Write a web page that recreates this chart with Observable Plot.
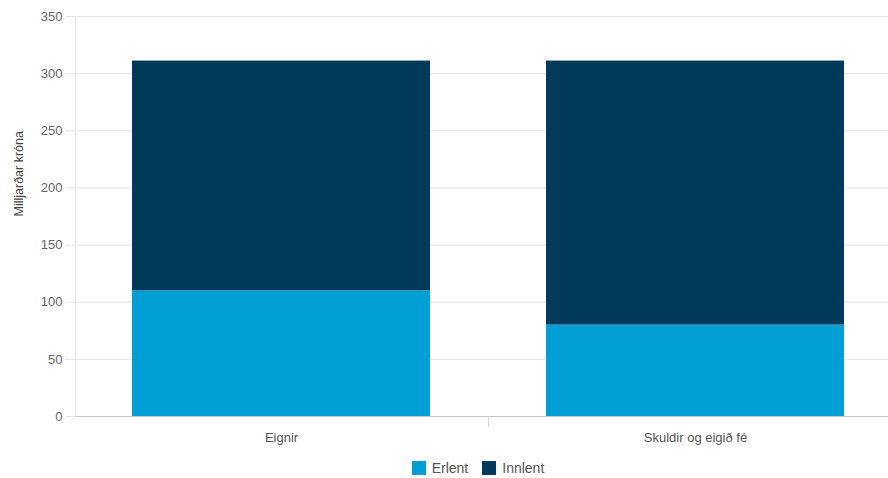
<!DOCTYPE html>
<html><head><meta charset="utf-8">
<script src="https://cdn.jsdelivr.net/npm/d3@7"></script>
<script src="https://cdn.jsdelivr.net/npm/@observablehq/plot@0.6"></script>
<style>
body{margin:0;background:#fff;font-family:"Liberation Sans",Arial,sans-serif;}
#legend{display:flex;justify-content:center;align-items:center;gap:14px;font-size:14px;color:#555;height:26px;padding-left:68px;margin-top:3px}
#legend span.item{display:flex;align-items:center;gap:6px}
#legend span.sw{display:inline-block;width:14px;height:14px}
</style></head>
<body><div id="chart"></div><div id="legend"></div>
<script>
const categories = ["Eignir", "Skuldir og eigið fé"];
const series = ["Erlent", "Innlent"];
const erlent = [110, 80];
const innlent = [201, 231];
const colors = ["#009fd5", "#003a5b"];
const yTicks = [0, 50, 100, 150, 200, 250, 300, 350];

const data = [];
categories.forEach((c, i) => {
  data.push({cat: c, series: "Erlent", value: erlent[i]});
  data.push({cat: c, series: "Innlent", value: innlent[i]});
});

const boundaryTick = (index, scales, values, dimensions) => {
  const x = scales.x;
  const bw = x.bandwidth ? x.bandwidth() : 0;
  const b = (x(categories[0]) + bw + x(categories[1])) / 2;
  const y0 = dimensions.height - dimensions.marginBottom;
  return d3.create("svg:line")
    .attr("x1", Math.round(b) + 0.5).attr("x2", Math.round(b) + 0.5)
    .attr("y1", y0 + 1).attr("y2", y0 + 11)
    .attr("stroke", "#d6d6d6").node();
};

const leftLine = (index, scales, values, dimensions) => {
  const y = scales.y;
  return d3.create("svg:line")
    .attr("x1", dimensions.marginLeft + 0.5).attr("x2", dimensions.marginLeft + 0.5)
    .attr("y1", y(350)).attr("y2", y(0))
    .attr("stroke", "#e6e6e6").node();
};

const chart = Plot.plot({
  width: 888,
  height: 452,
  marginTop: 16,
  marginBottom: 36,
  marginLeft: 75,
  marginRight: 0,
  style: {fontFamily: "Liberation Sans, Arial, sans-serif", fontSize: "13px", color: "#666", background: "#fff"},
  x: {domain: categories, range: [74, 902], paddingInner: 0.28, paddingOuter: 0.14, label: null},
  y: {domain: [0, 350], ticks: yTicks, label: null},
  color: {domain: series, range: colors},
  marks: [
    Plot.gridY(yTicks, {stroke: "#e6e6e6", strokeOpacity: 1}),
    leftLine,
    Plot.axisY(yTicks, {tickSize: 10, tickPadding: 3, stroke: "#e6e6e6", fill: "#666", fontSize: 13}),
    Plot.barY(data, Plot.stackY({x: "cat", y: "value", fill: "series", order: series})),
    Plot.ruleY([0], {stroke: "#c8c8c8"}),
    Plot.axisX({tickSize: 0, tickPadding: 16, fill: "#555", fontSize: 13}),
    boundaryTick,
    Plot.text(["Milljarðar króna"], {frameAnchor: "left", dx: -57, rotate: -90, fill: "#444", fontSize: 12.5})
  ]
});
document.getElementById("chart").appendChild(chart);

const legend = document.getElementById("legend");
series.forEach((s, i) => {
  const it = document.createElement("span");
  it.className = "item";
  it.innerHTML = `<span class="sw" style="background:${colors[i]}"></span>${s}`;
  legend.appendChild(it);
});
</script></body></html>
